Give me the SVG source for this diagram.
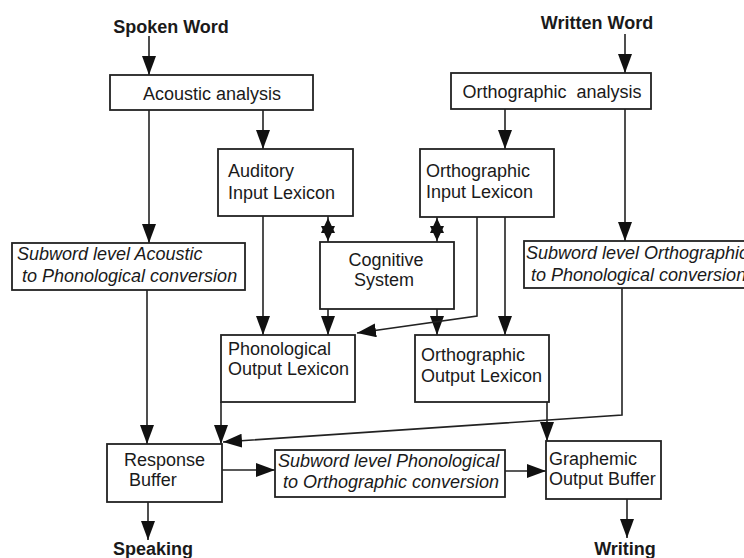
<svg xmlns="http://www.w3.org/2000/svg" width="744" height="558" viewBox="0 0 744 558">
<style>
.box{fill:#fff;stroke:#222;stroke-width:1.8}
.t{font-family:"Liberation Sans",Arial,sans-serif;font-size:18px;fill:#1a1a1a}
.i{font-style:italic}
.b{font-weight:bold}
.m{text-anchor:middle}
.c{fill:none;stroke:#222;stroke-width:1.6}
.star{fill:#111;stroke:none}
</style>
<defs>
<marker id="arr" markerUnits="userSpaceOnUse" markerWidth="19" markerHeight="14" viewBox="0 0 19 14" refX="19" refY="7" orient="auto">
<path d="M0,0 L19,7 L0,14 z" fill="#111"/>
</marker>
</defs>
<rect width="744" height="558" fill="#fff"/>

<g id="connectors">
<path class="c" d="M149,36 V75" marker-end="url(#arr)"/>
<path class="c" d="M625,34 V73" marker-end="url(#arr)"/>
<path class="c" d="M149,110 V243" marker-end="url(#arr)"/>
<path class="c" d="M263,110 V149" marker-end="url(#arr)"/>
<path class="c" d="M505,109 V149" marker-end="url(#arr)"/>
<path class="c" d="M625,109 V241" marker-end="url(#arr)"/>
<path class="c" d="M328,216 V242"/>
<polygon class="star" points="328,218 335,233 321,233"/>
<polygon class="star" points="328,241 335,226 321,226"/>
<path class="c" d="M437,217 V242"/>
<polygon class="star" points="437,218 444,233 430,233"/>
<polygon class="star" points="437,241 444,226 430,226"/>
<path class="c" d="M263,216 V335" marker-end="url(#arr)"/>
<path class="c" d="M328,309 V335" marker-end="url(#arr)"/>
<path class="c" d="M437,309 V335" marker-end="url(#arr)"/>
<path class="c" d="M477,217 V316 L357,333" marker-end="url(#arr)"/>
<path class="c" d="M505,217 V335" marker-end="url(#arr)"/>
<path class="c" d="M147,290 V444" marker-end="url(#arr)"/>
<path class="c" d="M221,402 V444" marker-end="url(#arr)"/>
<path class="c" d="M622,287 V415 L223,442" marker-end="url(#arr)"/>
<path class="c" d="M547,402 V441" marker-end="url(#arr)"/>
<path class="c" d="M222,470 H275" marker-end="url(#arr)"/>
<path class="c" d="M505,471 H546" marker-end="url(#arr)"/>
<path class="c" d="M148,502 V540" marker-end="url(#arr)"/>
<path class="c" d="M627,499 V538" marker-end="url(#arr)"/>
</g>

<g id="spoken-word"><text class="t b m" x="171" y="33">Spoken Word</text></g>
<g id="written-word"><text class="t b m" x="597" y="29">Written Word</text></g>

<g id="acoustic-analysis">
<rect class="box" x="110" y="75" width="203" height="35"/>
<text class="t m" x="212" y="100">Acoustic analysis</text>
</g>
<g id="orthographic-analysis">
<rect class="box" x="451" y="73" width="200" height="36"/>
<text class="t m" x="552" y="98" style="white-space:pre">Orthographic  analysis</text>
</g>
<g id="auditory-input-lexicon">
<rect class="box" x="218" y="149" width="135" height="67"/>
<text class="t" x="228" y="177">Auditory</text>
<text class="t" x="228" y="199">Input Lexicon</text>
</g>
<g id="orthographic-input-lexicon">
<rect class="box" x="420" y="149" width="134" height="68"/>
<text class="t" x="426" y="177">Orthographic</text>
<text class="t" x="426" y="198">Input Lexicon</text>
</g>
<g id="cognitive-system">
<rect class="box" x="320" y="242" width="134" height="67"/>
<text class="t m" x="386" y="266">Cognitive</text>
<text class="t m" x="384" y="286">System</text>
</g>
<g id="subword-acoustic">
<rect class="box" x="12" y="243" width="233" height="47"/>
<text class="t i" x="17" y="260">Subword level Acoustic</text>
<text class="t i" x="22" y="282">to Phonological conversion</text>
</g>
<g id="subword-orthographic">
<rect class="box" x="524" y="241" width="236" height="47"/>
<text class="t i" x="526" y="259">Subword level Orthographic</text>
<text class="t i" x="531" y="281">to Phonological conversion</text>
</g>
<g id="phonological-output-lexicon">
<rect class="box" x="221" y="335" width="134" height="67"/>
<text class="t" x="228" y="355">Phonological</text>
<text class="t" x="228" y="375">Output Lexicon</text>
</g>
<g id="orthographic-output-lexicon">
<rect class="box" x="415" y="335" width="134" height="67"/>
<text class="t" x="421" y="361">Orthographic</text>
<text class="t" x="421" y="382">Output Lexicon</text>
</g>
<g id="response-buffer">
<rect class="box" x="107" y="444" width="115" height="58"/>
<text class="t" x="124" y="466">Response</text>
<text class="t" x="129" y="486">Buffer</text>
</g>
<g id="subword-phonological">
<rect class="box" x="275" y="450" width="230" height="47"/>
<text class="t i" x="278" y="467">Subword level Phonological</text>
<text class="t i" x="283" y="488">to Orthographic conversion</text>
</g>
<g id="graphemic-output-buffer">
<rect class="box" x="546" y="441" width="115" height="58"/>
<text class="t" x="549" y="465">Graphemic</text>
<text class="t" x="549" y="485">Output Buffer</text>
</g>
<g id="speaking"><text class="t b m" x="153" y="555">Speaking</text></g>
<g id="writing"><text class="t b m" x="625" y="555">Writing</text></g>
</svg>
